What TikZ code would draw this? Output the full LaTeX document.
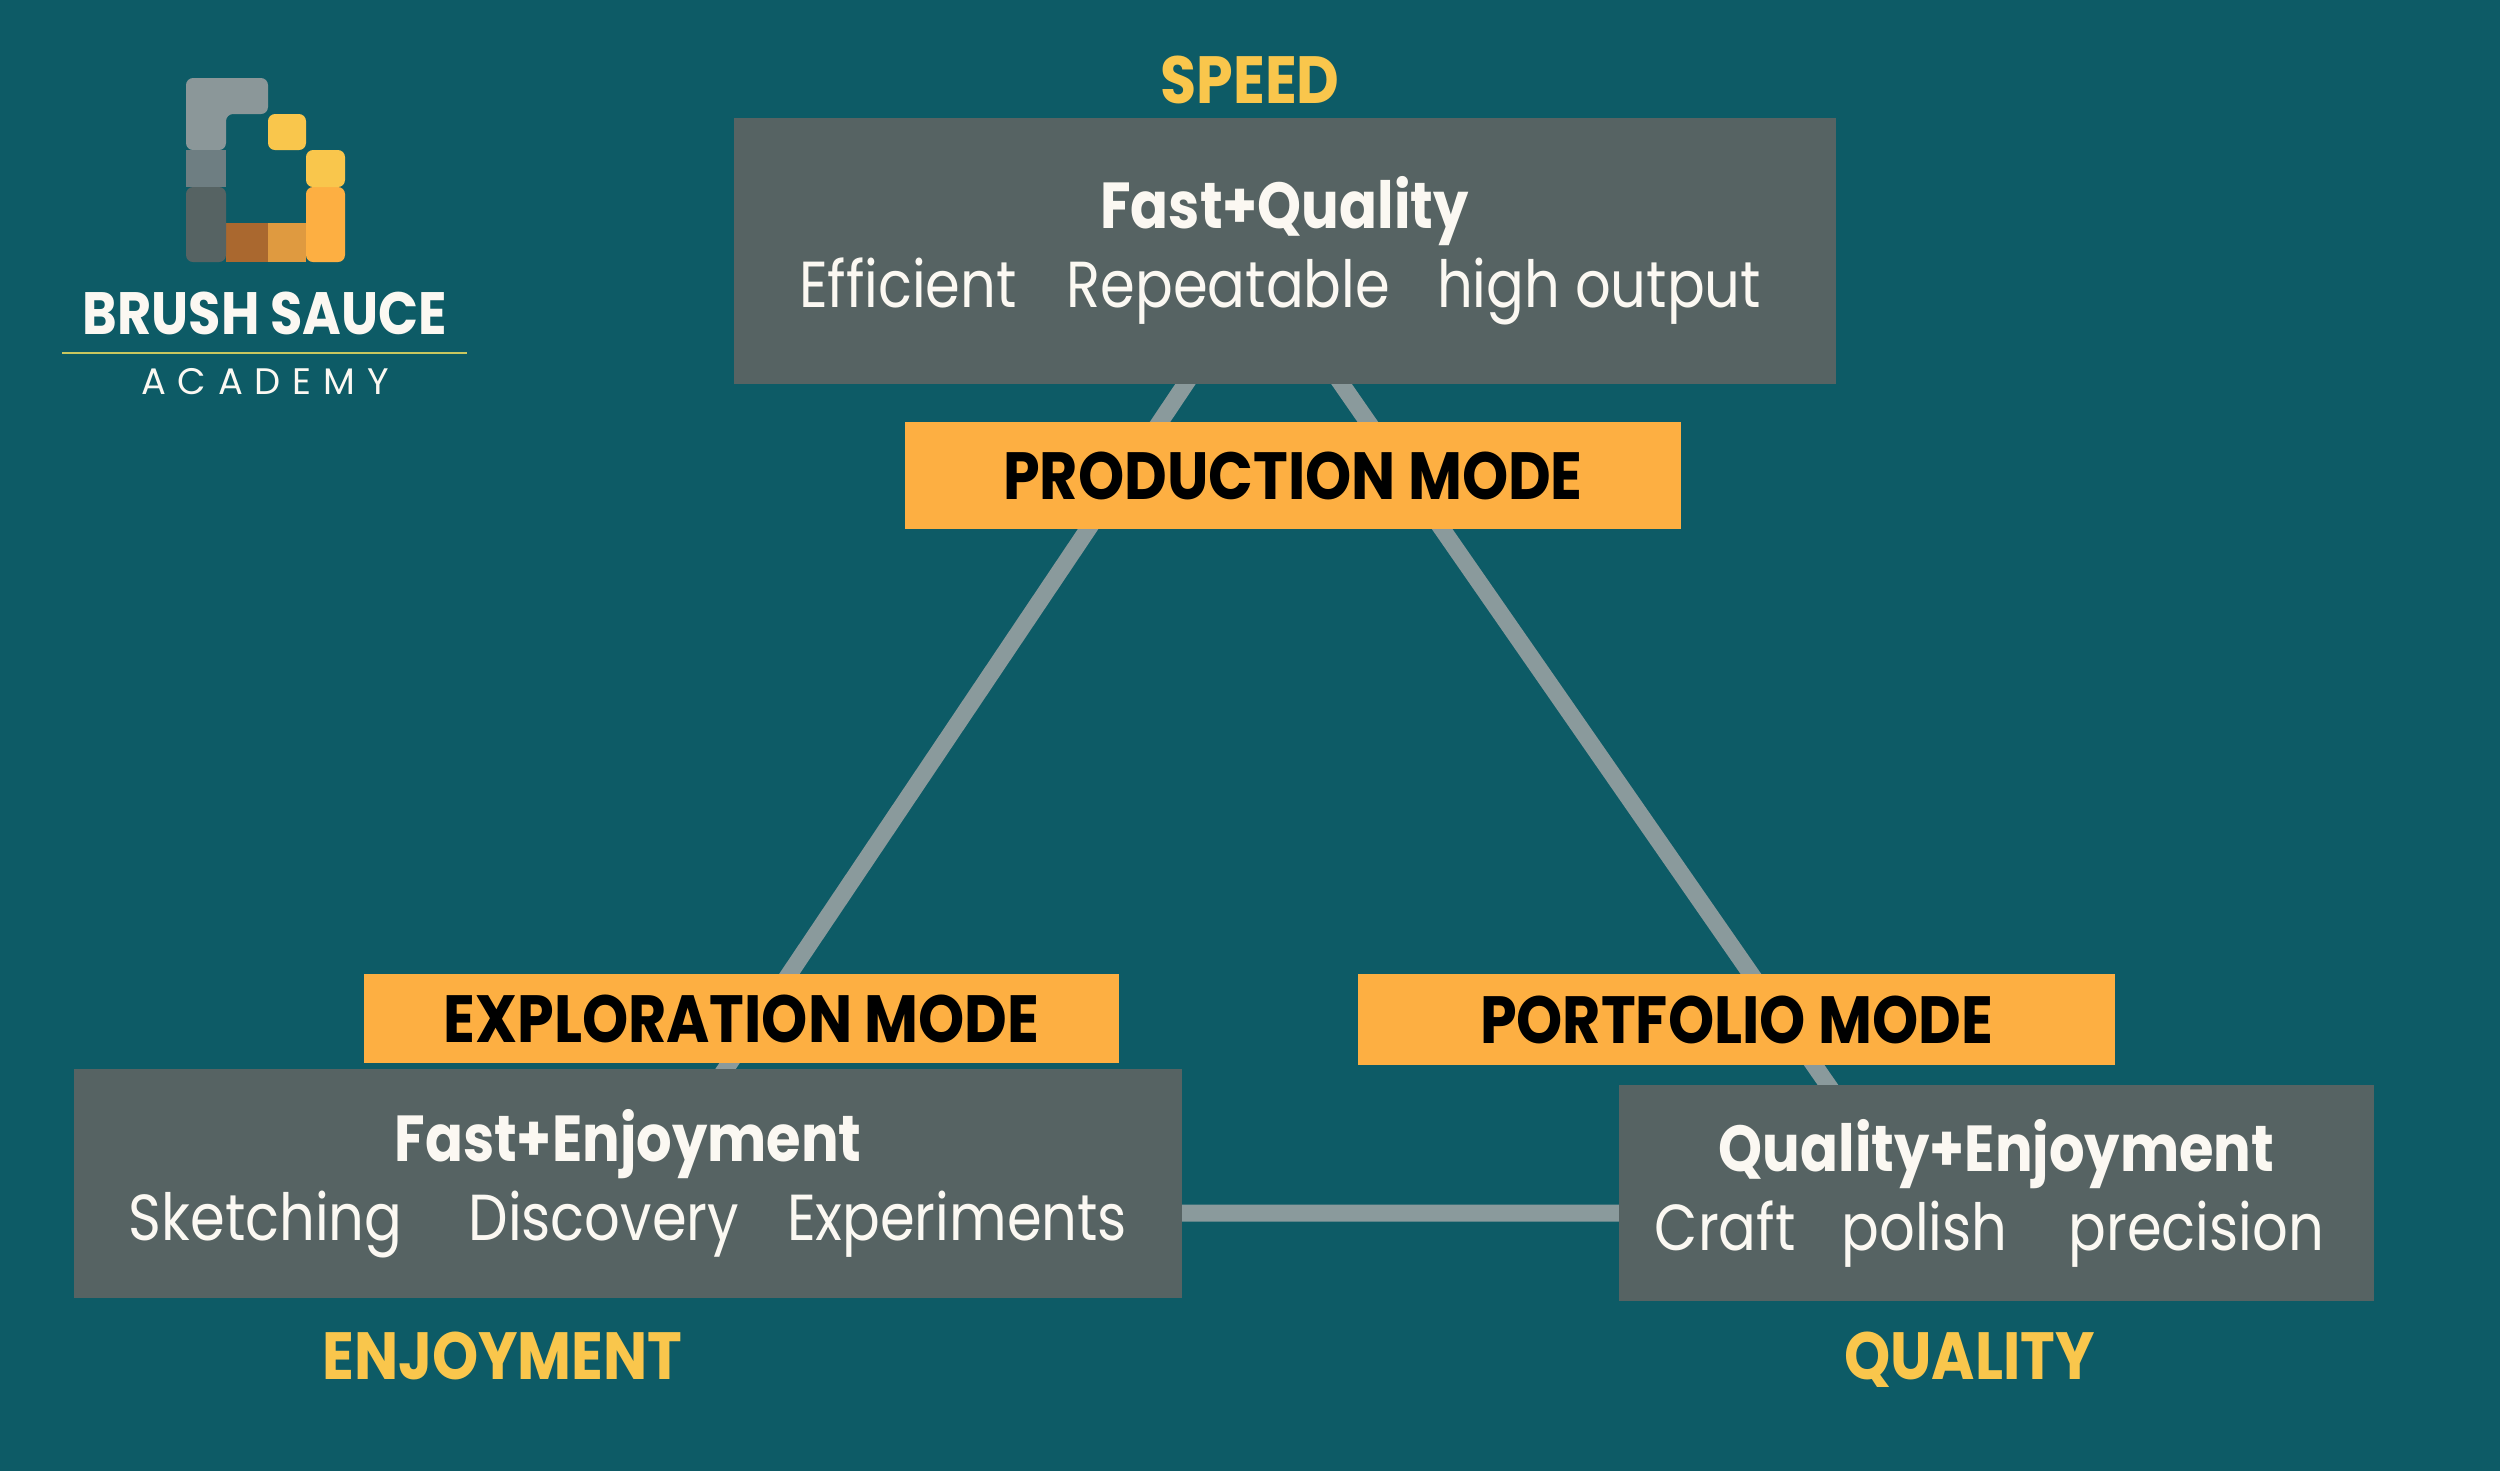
\documentclass[tikz,border=0pt]{standalone}
\usepackage{fontspec}
\setmainfont{Poppins}
\usepackage{tikz}
\usetikzlibrary{backgrounds}
\definecolor{deepteal}{RGB}{13, 91, 102}
\definecolor{slatebox}{RGB}{86, 99, 99}
\definecolor{edgegray}{RGB}{138, 154, 156}
\definecolor{modeorange}{RGB}{253, 175, 66}
\definecolor{cornergold}{RGB}{249, 198, 76}
\definecolor{softwhite}{RGB}{251, 248, 242}
\definecolor{logogray}{RGB}{139, 151, 153}
\definecolor{logomid}{RGB}{110, 126, 130}
\definecolor{logobrown}{RGB}{170, 104, 47}
\definecolor{logoamber}{RGB}{223, 154, 64}
\definecolor{logorule}{RGB}{201, 199, 95}
\newfontfamily\modefont[FakeStretch=0.88]{Poppins}
\newfontfamily\bodyfont[FakeStretch=0.86]{Poppins}
\newfontfamily\logofont[LetterSpace=32]{Poppins}
\tikzset{
  tradebox/.style={fill=slatebox, text=softwhite, inner sep=0pt, align=center,
    font=\bodyfont\fontsize{18.5}{22.5}\selectfont},
  modebox/.style={fill=modeorange, text=black, inner sep=0pt,
    font=\modefont\fontsize{19}{23}\selectfont\bfseries},
  cornerlabel/.style={text=cornergold, inner sep=0pt, anchor=base,
    font=\modefont\fontsize{19}{23}\selectfont\bfseries},
  edgeline/.style={edgegray, line width=0.17cm, shorten >=-0.1cm, shorten <=-0.1cm}
}
\begin{document}
\begin{tikzpicture}
  \useasboundingbox (0,0) rectangle (25,-14.71);
  % Boxes at the three corners
  \node[tradebox, minimum width=11.02cm, minimum height=2.66cm] (speedbox) at (12.845,-2.51)
    {\textbf{Fast+Quality}\\\mbox{Efficient\hspace{0.5cm}Repeatable\hspace{0.47cm}high output\hspace{0.09cm}}};
  \node[tradebox, minimum width=11.08cm, minimum height=2.29cm] (enjoybox) at (6.28,-11.835)
    {\textbf{Fast+Enjoyment}\\\mbox{Sketching\hspace{0.66cm}Discovery\hspace{0.48cm}Experiments}};
  \node[tradebox, minimum width=7.55cm, minimum height=2.16cm] (qualitybox) at (19.965,-11.93)
    {\textbf{Quality+Enjoyment\hspace{0.14cm}}\\\mbox{Craft\hspace{0.46cm}polish\hspace{0.61cm}precision\hspace{0.14cm}}};
  % Mode labels
  \foreach \name/\xpos/\ypos/\wid/\hgt/\txt in {
      prodbox/12.93/-4.755/7.76/1.07/PRODUCTION MODE\hspace{0.18cm},
      explbox/7.415/-10.185/7.55/0.89/EXPLORATION MODE,
      portbox/17.365/-10.195/7.57/0.91/PORTFOLIO MODE}{
    \node[modebox, minimum width=\wid cm, minimum height=\hgt cm] (\name) at (\xpos,\ypos) {\txt};
  }
  % Corner labels
  \node[cornerlabel] (speedlabel) at (12.5,-1.03) {SPEED};
  \node[cornerlabel] (enjoylabel) at (5.025,-13.79) {ENJOYMENT};
  \node[cornerlabel] (qualitylabel) at (19.695,-13.79) {QUALITY};
  % Triangle behind the boxes
  \begin{scope}[on background layer]
    \fill[deepteal] (0,0) rectangle (25,-14.71);
    \draw[edgeline] ([xshift=-0.995cm]speedbox.south) -- ([xshift=0.98cm]enjoybox.north);
    \draw[edgeline] ([xshift=0.575cm]speedbox.south) -- ([xshift=-1.69cm]qualitybox.north);
    \draw[edgeline] ([yshift=-0.295cm]enjoybox.east) -- ([yshift=-0.2cm]qualitybox.west);
  \end{scope}
  % Logo mark
  \fill[logogray, rounded corners=2pt] (1.86,-1.5) -- (1.86,-0.78) -- (2.68,-0.78) -- (2.68,-1.14)
    -- (2.26,-1.14) -- (2.26,-1.5) -- cycle;
  \foreach \xa/\ya/\xb/\yb/\col in {
      1.86/-1.5/2.26/-1.87/logomid,
      2.26/-2.23/2.68/-2.62/logobrown,
      2.68/-2.23/3.06/-2.62/logoamber}{
    \fill[\col] (\xa,\ya) rectangle (\xb,\yb);
  }
  \fill[slatebox, rounded corners=2pt] (1.86,-1.87) -- (1.86,-2.62) -- (2.26,-2.62) -- (2.26,-1.87) -- cycle;
  \fill[modeorange, rounded corners=2pt] (3.06,-1.87) -- (3.06,-2.62) -- (3.45,-2.62) -- (3.45,-1.87) -- cycle;
  \fill[cornergold, rounded corners=2pt] (3.06,-1.87) -- (3.06,-1.5) -- (3.45,-1.5) -- (3.45,-1.87) -- cycle;
  \fill[cornergold, rounded corners=2pt] (2.68,-1.5) -- (2.68,-1.14) -- (3.06,-1.14) -- (3.06,-1.5) -- cycle;
  % Logo text
  \node[text=softwhite, inner sep=0pt, anchor=base, font=\modefont\fontsize{17}{20}\selectfont\bfseries]
    (brandname) at (2.65,-3.34) {BRUSH SAUCE};
  \draw[logorule, line width=0.025cm] (0.62,-3.53) -- (4.67,-3.53);
  \node[text=softwhite, inner sep=0pt, anchor=base, font=\logofont\fontsize{10.5}{12}\selectfont]
    (brandsub) at (2.65,-3.94) {ACADEMY};
\end{tikzpicture}
\end{document}
